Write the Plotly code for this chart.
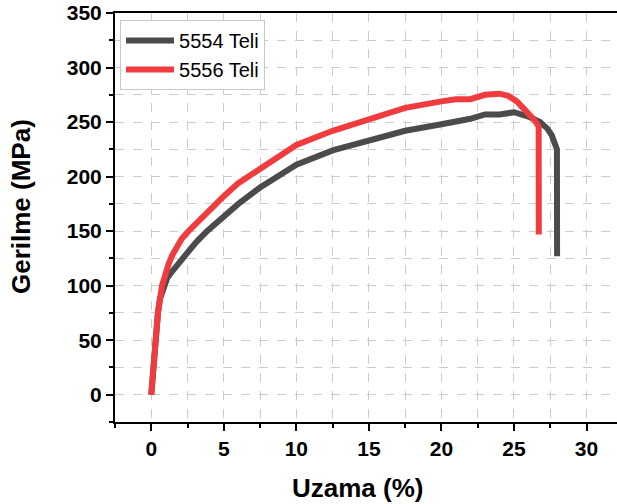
import plotly.graph_objects as go

# 5554 Teli
x_5554 = [0, 0.13, 0.3, 0.46, 0.6, 0.85, 1.1, 1.43, 1.9, 2.46, 3.1, 3.84, 5, 6, 7.5, 9, 10,
          12.5, 15, 17.5, 20, 21, 22, 23, 24, 25, 26, 26.8, 27.3, 27.6, 27.85, 27.96, 27.97]
y_5554 = [0, 25, 50, 75, 88, 100, 107, 113, 121, 130, 140, 150, 164, 175, 190, 203, 211,
          224, 233, 242, 248, 250, 253, 257, 257, 259, 255, 250, 244, 238, 231, 225, 127]

# 5556 Teli
x_5556 = [0, 0.13, 0.3, 0.46, 0.74, 0.95, 1.2, 1.45, 1.72, 2.1, 2.57, 3.0, 3.5, 4.2, 5, 6, 7.5,
          9, 10, 12.5, 15, 17.5, 20, 21, 22, 23, 24, 24.6, 25.2, 25.9, 26.4, 26.7, 26.71]
y_5556 = [0, 25, 50, 75, 100, 111, 120, 128, 135, 143, 150, 156, 163, 172, 182, 194, 207,
          221, 229, 242, 253, 263, 269, 271, 271, 275, 276, 274, 269, 260, 252, 246, 147]

x_ticks = [0, 5, 10, 15, 20, 25, 30]
y_ticks = [0, 50, 100, 150, 200, 250, 300, 350]

FONT = "Liberation Sans, Arial, sans-serif"

fig = go.Figure()
fig.add_trace(go.Scatter(x=x_5554, y=y_5554, mode="lines", name="5554 Teli",
                         line=dict(color="#4b4b4b", width=6)))
fig.add_trace(go.Scatter(x=x_5556, y=y_5556, mode="lines", name="5556 Teli",
                         line=dict(color="#f03c3f", width=6)))

grid = dict(showgrid=True, gridcolor="#cccccc", gridwidth=1, griddash="dash")

fig.update_layout(
    width=617, height=504,
    margin=dict(l=115, r=0, t=13, b=82, autoexpand=False),
    paper_bgcolor="white", plot_bgcolor="white",
    font=dict(family=FONT, color="black"),
    showlegend=True,
    legend=dict(x=0.01, y=0.983, xanchor="left", yanchor="top",
                bgcolor="white", bordercolor="#c8c8c8", borderwidth=1,
                itemwidth=48, font=dict(size=20, family=FONT), tracegroupgap=0),
    xaxis=dict(range=[-2.5, 32.1], tickvals=x_ticks, ticktext=[str(v) for v in x_ticks],
               ticks="outside", ticklen=7, tickwidth=2, tickcolor="black",
               showline=True, linecolor="black", linewidth=2, mirror=True,
               zeroline=False, automargin=False,
               tickfont=dict(size=21, family=FONT, weight="bold"),
               minor=dict(dtick=2.5, tick0=0, ticks="outside", ticklen=4, tickwidth=2,
                          tickcolor="black", showgrid=True, gridcolor="#cccccc",
                          griddash="dash", gridwidth=1),
               **grid),
    yaxis=dict(range=[-25, 350], tickvals=y_ticks, ticktext=[str(v) for v in y_ticks],
               ticks="outside", ticklen=7, tickwidth=2, tickcolor="black",
               showline=True, linecolor="black", linewidth=2, mirror=False,
               zeroline=False, automargin=False,
               tickfont=dict(size=21, family=FONT, weight="bold"),
               minor=dict(dtick=25, tick0=0, ticks="outside", ticklen=4, tickwidth=2,
                          tickcolor="black", showgrid=True, gridcolor="#cccccc",
                          griddash="dash", gridwidth=1),
               **grid),
    annotations=[
        dict(text="<b>Uzama (%)</b>", xref="paper", yref="paper",
             x=(357.5 - 115) / 502, y=(422 - 488) / 409, xanchor="center", yanchor="middle",
             showarrow=False, font=dict(size=26, family=FONT, color="black")),
        dict(text="<b>Gerilme (MPa)</b>", xref="paper", yref="paper",
             x=(21 - 115) / 502, y=(422 - 207) / 409, xanchor="center", yanchor="middle",
             textangle=-90, showarrow=False, font=dict(size=26, family=FONT, color="black")),
    ],
)

fig.write_html("out.html")
